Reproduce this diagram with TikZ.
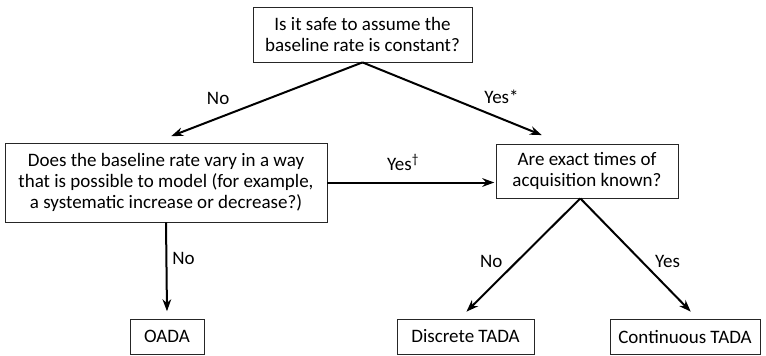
\documentclass[tikz,border=0pt]{standalone}
\usepackage{fontspec}
\setmainfont{Carlito}
\usetikzlibrary{arrows.meta}

\begin{document}
\begin{tikzpicture}[x=0.75pt,y=-0.75pt,shorten >=1pt,
  >={Stealth[length=9pt,width=6.5pt]},
  box/.style={draw=black!85,line width=0.6pt,align=center,inner sep=0pt,
    font=\fontsize{14.25}{16}\selectfont},
  flow/.style={->,line width=1.5pt},
  lbl/.style={font=\fontsize{14.25}{16}\selectfont}]
  \useasboundingbox (0,0) rectangle (766,356);
  \node[box,minimum width=164.25pt,minimum height=41.25pt] (safe) at (362.5,34.5)
    {Is it safe to assume the\\baseline rate is constant?};
  \node[box,minimum width=241.5pt,minimum height=59.25pt] (vary) at (166,182.5)
    {Does the baseline rate vary in a way\\that is possible to model (for example,\\a systematic increase or decrease?)};
  \node[box,minimum width=136.5pt,minimum height=40.5pt] (known) at (587,171)
    {Are exact times of\\acquisition known?};
  \node[box,minimum width=55.5pt,minimum height=26.25pt] (oada) at (167,336.5) {OADA};
  \node[box,minimum width=102.75pt,minimum height=26.25pt] (disc) at (465.5,336.5) {Discrete TADA};
  \node[box,minimum width=112.5pt,minimum height=26.25pt] (cont) at (685,336.5) {Continuous TADA};
  \path[flow] (safe.south) edge node[lbl,pos=.75,yshift=15pt] {No} ([xshift=3pt,yshift=4.5pt]vary.north)
        (safe.south) edge node[lbl,pos=.77,yshift=16.5pt] {Yes*} ([xshift=-33pt,yshift=6pt]known.north)
        (vary.east) edge node[lbl,pos=.45,yshift=15pt] {Yes\textsuperscript{†}} (vary.east -| known.west)
        (vary.south) edge node[lbl,pos=.4,xshift=12.75pt] {No} ([yshift=4.5pt]oada.north)
        ([xshift=-5pt]known.south) edge node[lbl,pos=.55,xshift=-19.5pt] {No} ([yshift=4.5pt]disc.north)
        ([xshift=-5pt]known.south) edge node[lbl,pos=.55,xshift=19.5pt] {Yes} ([xshift=5pt,yshift=4.5pt]cont.north);
\end{tikzpicture}
\end{document}
